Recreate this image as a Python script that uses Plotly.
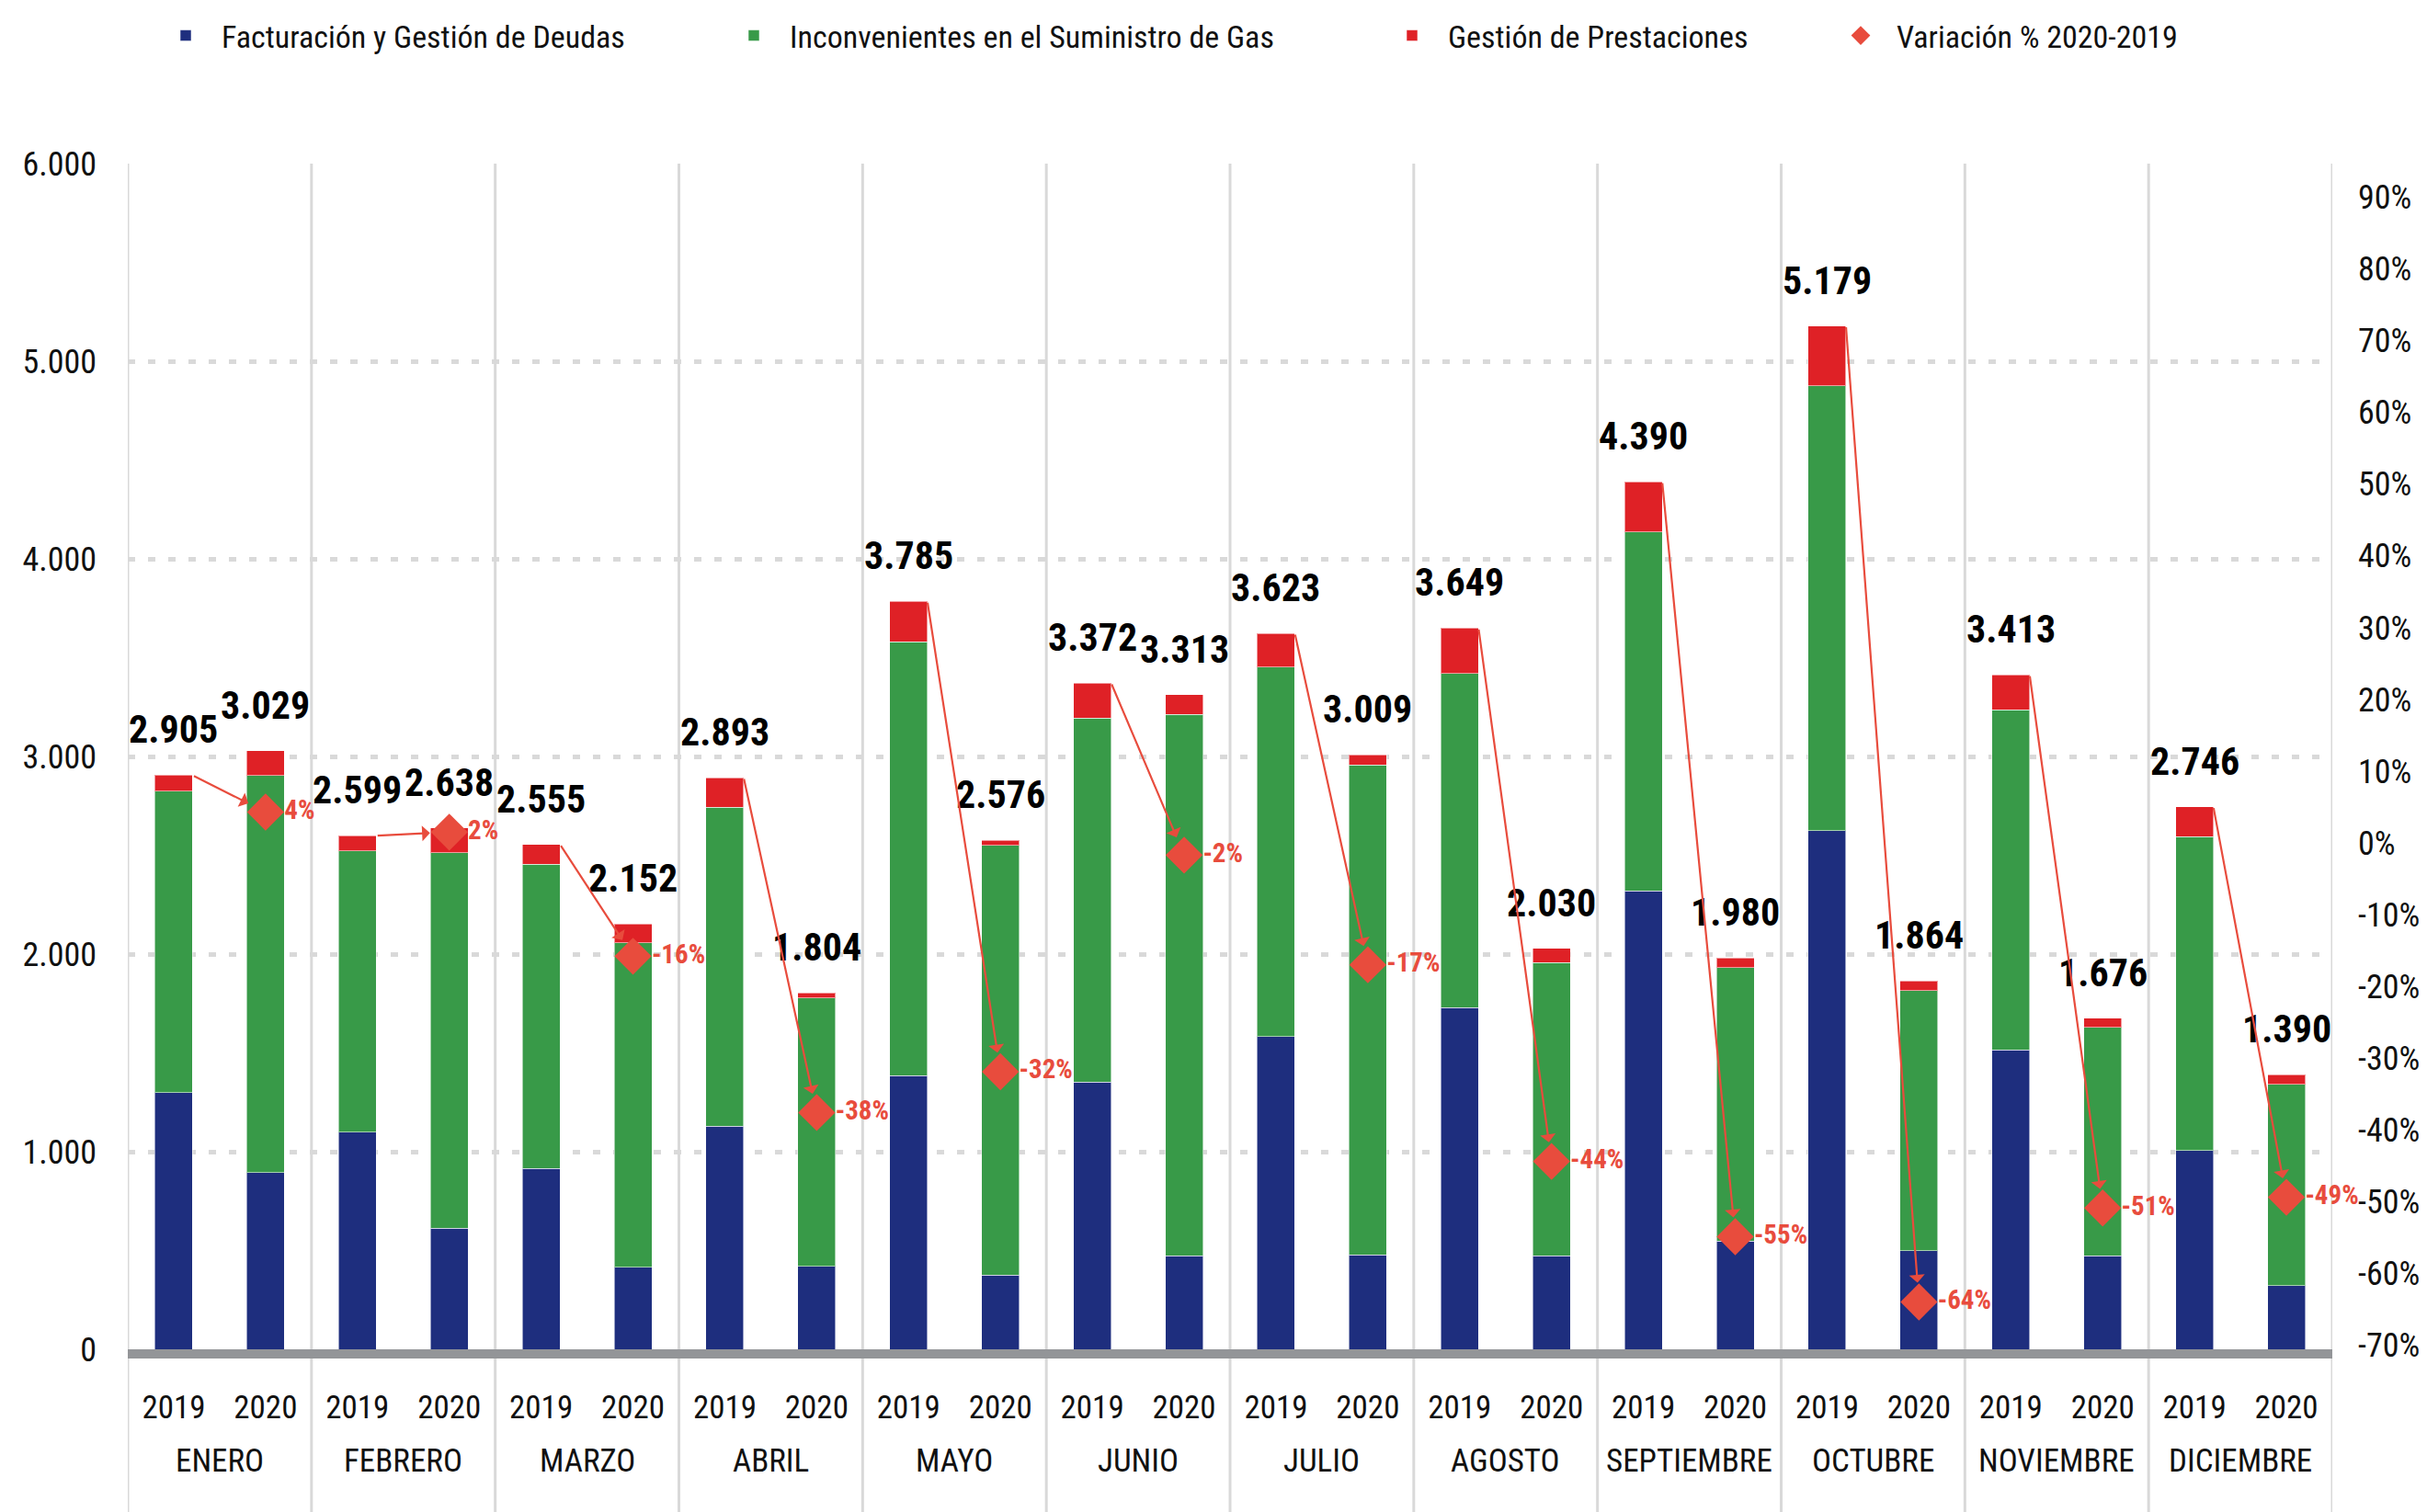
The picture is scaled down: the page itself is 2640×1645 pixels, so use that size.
import plotly.graph_objects as go

# ---------------- data ----------------
months = ["ENERO", "FEBRERO", "MARZO", "ABRIL", "MAYO", "JUNIO", "JULIO",
          "AGOSTO", "SEPTIEMBRE", "OCTUBRE", "NOVIEMBRE", "DICIEMBRE"]
years = ["2019", "2020"]

facturacion_2019 = [1300, 1098, 914, 1130, 1385, 1352, 1582, 1730, 2320, 2625, 1515, 1005]
facturacion_2020 = [894, 612, 415, 420, 375, 473, 477, 474, 547, 500, 474, 323]

suministro_2019 = [1525, 1424, 1541, 1613, 2195, 1842, 1870, 1690, 1815, 2250, 1722, 1590]
suministro_2020 = [2010, 1900, 1642, 1358, 2175, 2740, 2480, 1483, 1385, 1315, 1155, 1017]

prestaciones_2019 = [80, 77, 100, 150, 205, 178, 171, 229, 255, 304, 176, 151]
prestaciones_2020 = [125, 126, 95, 26, 26, 100, 52, 73, 48, 49, 47, 50]

variacion = [0.043, 0.015, -0.158, -0.376, -0.319, -0.017, -0.170,
             -0.444, -0.549, -0.640, -0.509, -0.494]

left_ticks = [0, 1000, 2000, 3000, 4000, 5000, 6000]
pct_ticks = [v / 100 for v in range(-70, 100, 10)]

# ---------------- style ----------------
# page has an 8px body margin, so the figure is 8px smaller than the window
W, H = 2632, 1637
ML, MR, MT, MB = 131, 103, 170, 177
PH = H - MT - MB
PW = W - ML - MR
Y_MAX = 6000
P_MIN, P_MAX = -0.706, 0.947

BLUE = "#1E2E7E"
GREEN = "#389A48"
RED = "#DF2126"
ORANGE = "#E84C3D"
GRID = "#D9D9D9"
FONT = "Roboto Condensed, Roboto, sans-serif"
TXT = "#111111"
BAR_W = 0.41


def interleave(a, b):
    out = []
    for p, q in zip(a, b):
        out += [p, q]
    return out


xs = list(range(2 * len(months)))
x2019 = xs[0::2]
x2020 = xs[1::2]
fact = interleave(facturacion_2019, facturacion_2020)
sumi = interleave(suministro_2019, suministro_2020)
pres = interleave(prestaciones_2019, prestaciones_2020)
totals = [a + b + c for a, b, c in zip(fact, sumi, pres)]


def fmt_thousands(v):
    return f"{v:,}".replace(",", ".")


fig = go.Figure()
line_style = dict(width=1, color="rgba(255,255,255,0.55)")
fig.add_trace(go.Bar(x=xs, y=fact, width=BAR_W, name="Facturación y Gestión de Deudas",
                     marker=dict(color=BLUE, line=line_style), legend="legend"))
fig.add_trace(go.Bar(x=xs, y=sumi, width=BAR_W, name="Inconvenientes en el Suministro de Gas",
                     marker=dict(color=GREEN, line=line_style), legend="legend2"))
fig.add_trace(go.Bar(x=xs, y=pres, width=BAR_W, name="Gestión de Prestaciones",
                     marker=dict(color=RED, line=line_style), legend="legend3"))
fig.add_trace(go.Scatter(
    x=x2020, y=variacion, yaxis="y2", mode="markers+text", name="Variación % 2020-2019",
    marker=dict(symbol="diamond", size=31, color=ORANGE),
    text=[f"{round(v * 100)}%" for v in variacion], textposition="middle right",
    textfont=dict(family=FONT, size=29, color=ORANGE, weight="bold"),
    cliponaxis=False, legend="legend4"))

annotations = []
# totals above bars
for x, t in zip(xs, totals):
    annotations.append(dict(x=x, y=t, xref="x", yref="y", text=fmt_thousands(t),
                            showarrow=False, yanchor="bottom", yshift=23,
                            font=dict(family=FONT, size=42, color="#000000", weight="bold")))
# arrows from 2019 bar top to 2020 variation marker
tot2019 = totals[0::2]
for x, t, v in zip(x2019, tot2019, variacion):
    tail_y = P_MIN + t / Y_MAX * (P_MAX - P_MIN)
    annotations.append(dict(x=x + 1, y=v, xref="x", yref="y2",
                            ax=x + BAR_W / 2, ay=tail_y, axref="x", ayref="y2",
                            showarrow=True, arrowhead=1, arrowsize=1.3, arrowwidth=2.2,
                            arrowcolor=ORANGE, standoff=21, text=""))
# month labels
for i, m in enumerate(months):
    annotations.append(dict(x=2 * i + 0.5, y=-(122 / PH), xref="x", yref="paper",
                            text=m, showarrow=False, yanchor="middle",
                            font=dict(family=FONT, size=35, color=TXT)))

shapes = []
for i in range(len(months) + 1):
    shapes.append(dict(type="line", xref="x", yref="paper", x0=2 * i - 0.5, x1=2 * i - 0.5,
                       y0=-(MB / PH), y1=1, line=dict(color=GRID, width=3), layer="below"))

ITEM_W = 68
legend_common = dict(orientation="h", yanchor="middle", y=1 + (MT - 31) / PH, xanchor="left",
                     font=dict(family=FONT, size=34, color=TXT),
                     bgcolor="rgba(0,0,0,0)", itemwidth=ITEM_W)
text_starts = [233, 851, 1567, 2055]
leg_x = [(t - ITEM_W - 10 - ML) / PW for t in text_starts]

fig.update_layout(
    width=W, height=H,
    margin=dict(l=ML, r=MR, t=MT, b=MB, autoexpand=False),
    paper_bgcolor="white", plot_bgcolor="white",
    barmode="stack", separators=",.", showlegend=True,
    font=dict(family=FONT, color=TXT),
    xaxis=dict(range=[-0.5, 23.5], tickvals=xs, ticktext=years * len(months),
               showgrid=False, zeroline=False, showline=True, linewidth=10,
               linecolor="#939598", ticks="", ticklabelstandoff=23,
               tickfont=dict(family=FONT, size=35, color=TXT)),
    yaxis=dict(range=[0, Y_MAX], tickvals=left_ticks,
               ticktext=[fmt_thousands(v) for v in left_ticks],
               showgrid=True, gridcolor=GRID, gridwidth=5, griddash="8px,14px",
               zeroline=False, showline=False, ticks="", ticklabelstandoff=33,
               tickfont=dict(family=FONT, size=36, color=TXT)),
    yaxis2=dict(overlaying="y", side="right", range=[P_MIN, P_MAX], tickvals=pct_ticks,
                ticktext=[f"{round(v * 100)}%" for v in pct_ticks],
                showgrid=False, zeroline=False, showline=False, ticks="",
                ticklabelstandoff=27, tickfont=dict(family=FONT, size=36, color=TXT)),
    legend=dict(legend_common, x=leg_x[0]),
    legend2=dict(legend_common, x=leg_x[1]),
    legend3=dict(legend_common, x=leg_x[2]),
    legend4=dict(legend_common, x=leg_x[3]),
    annotations=annotations, shapes=shapes,
)

fig.write_html("out.html")
